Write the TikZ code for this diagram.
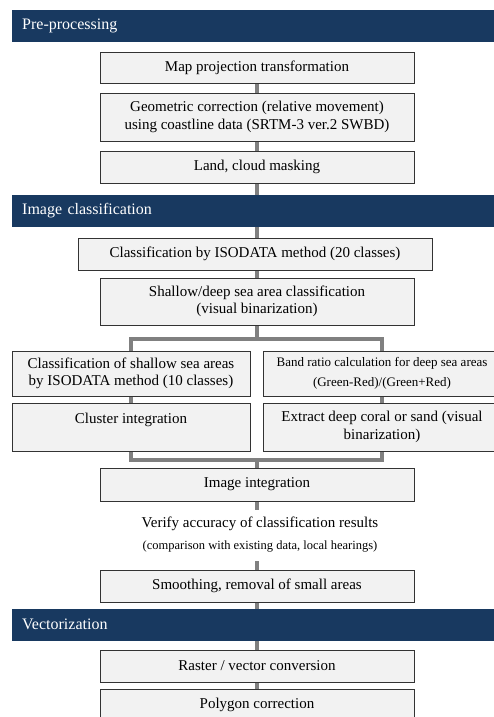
\documentclass[tikz,border=0pt]{standalone}
\usepackage{fontspec}
\setmainfont{Liberation Serif}
\usetikzlibrary{backgrounds}
\definecolor{navy}{HTML}{183960}
\definecolor{boxfill}{HTML}{F2F2F2}
\definecolor{conn}{HTML}{808080}
\begin{document}
\begin{tikzpicture}[x=1pt,y=-1pt,
  procbox/.style={draw=black!80, line width=0.9pt, fill=boxfill, align=center, inner sep=0pt,
    font=\fontsize{15}{17.5}\selectfont, text=black},
  widebox/.style={procbox, minimum width=314pt},
  sidebox/.style={procbox, minimum width=238pt},
  banner/.style={fill=navy, text=white, minimum height=32pt, text width=470pt, inner xsep=10pt,
    inner ysep=0pt, align=left, font=\fontsize{16}{19}\selectfont, anchor=west},
  link/.style={draw=conn, line width=4pt}]
\useasboundingbox (0,0) rectangle (494,717);

% banners
\node[banner] (h1) at (12,26) {Pre-processing};
\node[banner] (h2) at (12,211) {Image classification};
\node[banner] (h3) at (12,624.5) {Vectorization};

% boxes
\node[widebox, minimum height=31pt] (b1) at (257,67.5) {Map projection transformation};
\node[widebox, minimum height=48pt] (b2) at (257,117) {Geometric correction (relative movement)\\using coastline data (SRTM-3 ver.2 SWBD)};
\node[widebox, minimum height=32pt] (b3) at (257,167) {Land, cloud masking};
\node[procbox, minimum width=354pt, minimum height=32pt] (b4) at (255,254) {Classification by ISODATA method (20 classes)};
\node[widebox, minimum height=47pt] (b5) at (257,301.5) {Shallow/deep sea area classification\\(visual binarization)};
\node[sidebox, minimum height=45pt] (b6) at (131,373.5) {Classification of shallow sea areas\\by ISODATA method (10 classes)};
\node[sidebox, minimum height=45pt, font=\fontsize{13}{20}\selectfont] (b7) at (382,373.5) {Band ratio calculation for deep sea areas\\(Green-Red)/(Green+Red)};
\node[sidebox, minimum height=48pt] (b8) at (131,427) {Cluster integration\\\phantom{X}};
\node[sidebox, minimum height=48pt] (b9) at (382,427) {Extract deep coral or sand (visual\\binarization)};
\node[widebox, minimum height=33pt] (b10) at (257,484.5) {Image integration};
\node[font=\fontsize{15}{17.5}\selectfont, inner sep=0pt] (v1) at (260,524) {Verify accuracy of classification results};
\node[font=\fontsize{12.5}{15}\selectfont, inner sep=0pt] (v2) at (260,547) {(comparison with existing data, local hearings)};
\node[widebox, minimum height=32pt] (b11) at (257,586) {Smoothing, removal of small areas};
\node[widebox, minimum height=32pt] (b12) at (257,666) {Raster / vector conversion};
\node[widebox, minimum height=32pt] (b13) at (257,705) {Polygon correction};

\coordinate (split) at (257,339);
\coordinate (merge) at (257,460);
\coordinate (vtop) at (257,510);
\coordinate (vbot) at (257,561);

\begin{pgfonlayer}{background}
\draw[link] (b1) -- (b2);
\draw[link] (b2) -- (b3);
\draw[link] (b3.south) -- (b3.south |- b4.north);
\draw[link] (b4.south -| b5.north) -- (b5.north);
\draw[link] (b5) -- (split);
\draw[link] (b6.north) |- (split) -| (b7.north);
\draw[link] (b6) -- (b8);
\draw[link] (b7) -- (b9);
\draw[link] (b8.south) |- (merge) -| (b9.south);
\draw[link] (merge) -- (b10);
\draw[link] (b10) -- (vtop);
\draw[link] (vbot) -- (b11);
\draw[link] (b11) -- (b12);
\draw[link] (b12) -- (b13);
\end{pgfonlayer}
\end{tikzpicture}
\end{document}
